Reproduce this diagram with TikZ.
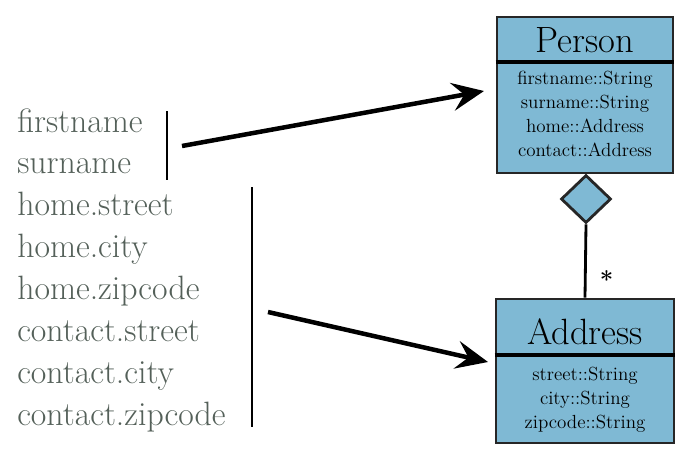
\documentclass[tikz,border=0pt]{standalone}
\usepackage{fontspec}
\usetikzlibrary{arrows.meta,shapes.geometric,positioning}
\definecolor{bleu}{RGB}{127,185,212}
\definecolor{grisvert}{RGB}{84,96,89}
\tikzset{
  classe/.style={draw=black!85, line width=2pt, fill=bleu, inner sep=0pt},
  champ/.style={anchor=base west, text=grisvert, inner sep=0pt, font=\fontsize{24}{26}\selectfont},
  titre/.style={inner sep=0pt, font=\fontsize{26}{28}\selectfont},
  attr/.style={inner sep=0pt, align=center, font=\fontsize{13.5}{17}\selectfont},
  fleche/.style={line width=3.2pt, -{Stealth[length=8mm,width=7mm,inset=3mm]}},
  trait/.style={line width=2pt}
}
\begin{document}
\begin{tikzpicture}[x=0.025cm, y=-0.025cm]

\useasboundingbox (0,0) rectangle (696,461);

% Colonnes a gauche
\foreach \nom [count=\i] in {firstname,surname,home.street,home.city,home.zipcode,contact.street,contact.city,contact.zipcode}
  \node[champ] (c\i) at (17,{132+(\i-1)*41.9}) {\nom};

% Traits verticaux
\coordinate (b1h) at (167,111);
\coordinate (b1b) at (167,180);
\coordinate (b2h) at (252,187);
\coordinate (b2b) at (252,427);
\draw[trait] (b1h) -- (b1b);
\draw[trait] (b2h) -- (b2b);

% Classe Person
\node[classe, minimum width=4.4cm, minimum height=3.9cm] (person) at (585,95) {};
\draw[line width=2.4pt] (person.west |- 0,62) -- (person.east |- 0,62);
\node[titre] (ptitre) at (585,40) {Person};
\node[attr] (pattr) at (585,114) {firstname::String\\surname::String\\home::Address\\contact::Address};

% Classe Address
\node[classe, minimum width=4.45cm, minimum height=3.6cm] (address) at (585,371) {};
\draw[line width=2.4pt] (address.west |- 0,355) -- (address.east |- 0,355);
\node[titre] (atitre) at (585,332) {Address};
\node[attr] (aattr) at (585,400) {street::String\\city::String\\zipcode::String};

% Composition
\node[classe, diamond, minimum width=1.25cm, minimum height=1.2cm] (losange) at (586,199) {};
\draw[trait] (losange.south) -- (address.north) node[pos=0.75, right=6pt, font=\fontsize{17}{17}\selectfont\bfseries] (mult) {*};

% Fleches
\coordinate (f1d) at (182,146);
\coordinate (f1a) at (484,91);
\coordinate (f2d) at (268,312);
\coordinate (f2a) at (488,362);
\draw[fleche] (f1d) -- (f1a);
\draw[fleche] (f2d) -- (f2a);
\end{tikzpicture}
\end{document}
